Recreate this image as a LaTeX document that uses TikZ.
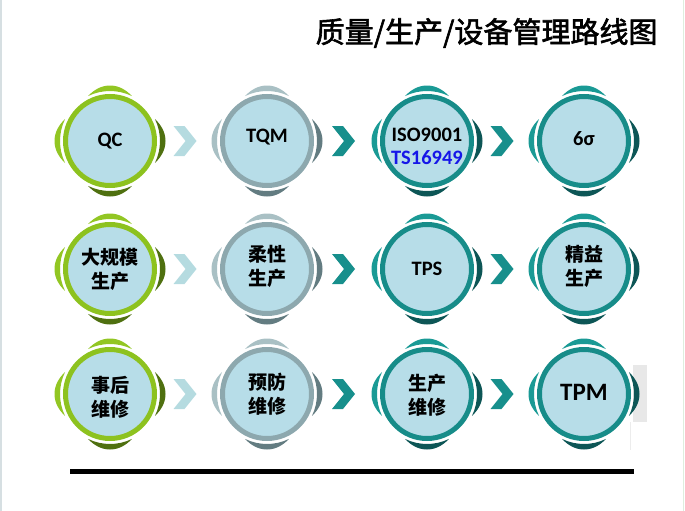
\documentclass[tikz,border=0pt]{standalone}
\usepackage{fontspec}
\setmainfont{Carlito}
\newfontfamily\cjk{Noto Sans CJK SC}
\newfontfamily\cjktitle{Noto Sans CJK SC}[FakeBold=2]
\usetikzlibrary{calc}
\definecolor{ballfill}{HTML}{B7DDE8}
\definecolor{grn}{HTML}{8DC21F}
\definecolor{grnlt}{HTML}{92C623}
\definecolor{grndk}{HTML}{4F7010}
\definecolor{gry}{HTML}{8DA8AE}
\definecolor{grylt}{HTML}{A9C0C4}
\definecolor{grydk}{HTML}{637C81}
\definecolor{tel}{HTML}{178C89}
\definecolor{tellt}{HTML}{1A9A95}
\definecolor{teldk}{HTML}{0D5656}
\definecolor{chlite}{HTML}{B5DBE0}
\definecolor{chteal}{HTML}{178F8C}
\definecolor{tsblue}{HTML}{1616E8}
% four crescents round a ball: node, light colour, dark colour
\newcommand\hoops[3]{%
 \foreach \a/\c in {180/#2,270/#2,0/#3,90/#3}
  \fill[\c,shift={(#1)}] plot[domain=-26:26,samples=25,variable=\t]
   ({\a+\t}:{50+5.5*cos(\t*90/26)}) arc[start angle=\a+26,end angle=\a-26,radius=50] -- cycle;}
% chevron at a named coordinate
\newcommand\chev[2]{%
 \fill[#2,shift={(#1)}] (-15,-15)--(-4,-15)--(8,0)--(-4,15)--(-15,15)--(-3,0)--cycle;}
\begin{document}
\begin{tikzpicture}[x=1pt,y=-1pt,
 ball/.style={circle,minimum size=89pt,inner sep=0pt,fill=ballfill,line width=5pt,draw=#1},
 lbl/.style={font=\bfseries\fontsize{20.5}{23}\selectfont,align=center},
 hz/.style={font=\cjk\bfseries\fontsize{19}{24}\selectfont,align=center}]
 \useasboundingbox (0,0) rectangle (685,511);
 \draw[color={rgb,255:red,214;green,223;blue,226},line width=1.5pt] (1,0)--(1,511);
 \draw[color={rgb,255:red,222;green,238;blue,222},line width=1.5pt] (683.5,0)--(683.5,511);
 \node[anchor=east,font=\cjktitle\fontsize{29}{32}\selectfont] (title) at (661,33) {质量/生产/设备管理路线图};
 % odd bit at the right of the last row
 \fill[gray!18] (633,365) rectangle (647,422);
 \draw[gray!15,line width=.8pt] (630,422)--(630,450);
 % row 1
 \node[ball=grn] (qc) at (110,141) {};
 \node[ball=gry] (tqm) at (267,141) {};
 \node[ball=tel] (iso) at (427,141) {};
 \node[ball=tel] (sig) at (584,141) {};
 \node[lbl] (qct) at (qc) {QC};
 \node[lbl] (tqmt) at ([yshift=4pt]tqm.center) {TQM};
 \node[lbl] (isot) at ([yshift=-5pt]iso.center) {ISO9001\\\textcolor{tsblue}{TS16949}};
 \node[lbl] (sigt) at ([yshift=2pt]sig.center) {6σ};
 % row 2
 \node[ball=grn] (mass) at (110,269) {};
 \node[ball=gry] (flex) at (267,269) {};
 \node[ball=tel] (tps) at (427,269) {};
 \node[ball=tel] (lean) at (584,269) {};
 \node[hz] (masst) at (mass) {大规模\\生产};
 \node[hz] (flext) at ([yshift=3pt]flex.center) {柔性\\生产};
 \node[lbl] (tpst) at (tps) {TPS};
 \node[hz] (leant) at ([yshift=3pt]lean.center) {精益\\生产};
 % row 3
 \node[ball=grn] (post) at (110,394) {};
 \node[ball=gry] (prev) at (267,394) {};
 \node[ball=tel] (prod) at (427,394) {};
 \node[ball=tel] (tpm) at (584,394) {};
 \node[hz] (postt) at ([yshift=-3pt]post.center) {事后\\维修};
 \node[hz] (prevt) at (prev) {预防\\维修};
 \node[hz] (prodt) at ([yshift=-1pt]prod.center) {生产\\维修};
 \node[lbl,font=\bfseries\fontsize{25}{28}\selectfont] (tpmt) at ([yshift=2pt]tpm.center) {TPM};
 % crescents
 \foreach \n in {qc,mass,post} {\hoops{\n}{grnlt}{grndk}}
 \foreach \n in {tqm,flex,prev} {\hoops{\n}{grylt}{grydk}}
 \foreach \n in {iso,sig,tps,lean,prod,tpm} {\hoops{\n}{tellt}{teldk}}
 % chevrons
 \foreach \p/\q/\c in {qc/tqm/chlite,tqm/iso/chteal,iso/sig/chteal,
   mass/flex/chlite,flex/tps/chteal,tps/lean/chteal,
   post/prev/chlite,prev/prod/chteal,prod/tpm/chteal} {
  \path (\p) -- (\q) coordinate[midway] (m);
  \chev{m}{\c}}
 \draw[line width=5pt] (70,471)--(634,471);
\end{tikzpicture}
\end{document}
